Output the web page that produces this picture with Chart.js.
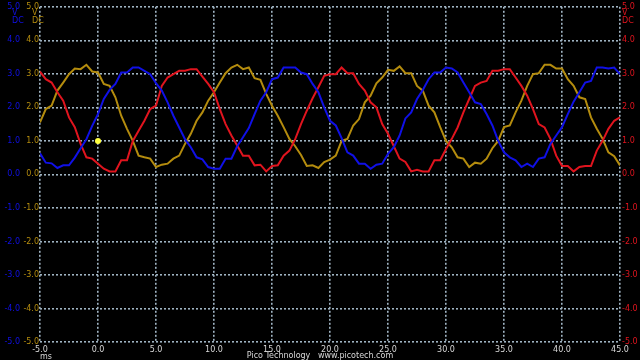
<!DOCTYPE html>
<html>
<head>
<meta charset="utf-8">
<script src="https://cdn.jsdelivr.net/npm/chart.js@4/dist/chart.umd.min.js"></script>
<style>
  html, body { margin: 0; padding: 0; background: #000; }
  canvas { display: block; background: #000; }
</style>
</head>
<body>
<canvas id="scope" width="640" height="360"></canvas>
<script>
// sample times (ms)
const times = [
  -5, -4.5, -4, -3.5, -3, -2.5, -2, -1.5, -1, -0.5,
  0, 0.5, 1, 1.5, 2, 2.5, 3, 3.5, 4, 4.5,
  5, 5.5, 6, 6.5, 7, 7.5, 8, 8.5, 9, 9.5,
  10, 10.5, 11, 11.5, 12, 12.5, 13, 13.5, 14, 14.5,
  15, 15.5, 16, 16.5, 17, 17.5, 18, 18.5, 19, 19.5,
  20, 20.5, 21, 21.5, 22, 22.5, 23, 23.5, 24, 24.5,
  25, 25.5, 26, 26.5, 27, 27.5, 28, 28.5, 29, 29.5,
  30, 30.5, 31, 31.5, 32, 32.5, 33, 33.5, 34, 34.5,
  35, 35.5, 36, 36.5, 37, 37.5, 38, 38.5, 39, 39.5,
  40, 40.5, 41, 41.5, 42, 42.5, 43, 43.5, 44, 44.5,
  45
];

// channel A (blue), volts
const chanA = [
  0.63, 0.35, 0.33, 0.19, 0.27, 0.27, 0.50, 0.78, 1.05, 1.45,
  1.80, 2.25, 2.52, 2.70, 3.04, 3.04, 3.19, 3.19, 3.09, 2.99,
  2.72, 2.50, 2.15, 1.75, 1.40, 1.05, 0.81, 0.51, 0.45, 0.22,
  0.17, 0.17, 0.47, 0.47, 0.84, 1.11, 1.38, 1.80, 2.20, 2.45,
  2.84, 2.89, 3.19, 3.19, 3.19, 3.04, 2.99, 2.70, 2.45, 2.00,
  1.60, 1.46, 1.08, 0.66, 0.56, 0.32, 0.32, 0.17, 0.29, 0.32,
  0.61, 0.81, 1.16, 1.67, 1.85, 2.25, 2.52, 2.84, 3.04, 3.04,
  3.19, 3.16, 3.04, 2.74, 2.45, 2.15, 2.10, 1.80, 1.46, 1.00,
  0.66, 0.51, 0.42, 0.22, 0.32, 0.22, 0.47, 0.51, 0.91, 1.16,
  1.41, 1.80, 2.17, 2.45, 2.74, 2.79, 3.19, 3.19, 3.16, 3.19,
  2.99
];

// channel B (gold), volts
const chanB = [
  1.55, 1.95, 2.05, 2.50, 2.74, 2.99, 3.16, 3.14, 3.27, 3.07,
  3.04, 2.70, 2.64, 2.30, 1.75, 1.36, 1.00, 0.56, 0.51, 0.47,
  0.22, 0.29, 0.32, 0.47, 0.56, 0.91, 1.21, 1.60, 1.85, 2.20,
  2.45, 2.74, 3.02, 3.19, 3.27, 3.14, 3.19, 2.87, 2.82, 2.40,
  2.05, 1.75, 1.41, 1.06, 0.84, 0.58, 0.25, 0.27, 0.19, 0.37,
  0.44, 0.56, 1.00, 1.06, 1.46, 1.65, 2.15, 2.35, 2.72, 2.89,
  3.12, 3.09, 3.22, 3.02, 3.02, 2.64, 2.50, 2.05, 1.85, 1.41,
  1.00, 0.81, 0.51, 0.47, 0.22, 0.35, 0.32, 0.47, 0.78, 1.00,
  1.41, 1.46, 1.85, 2.20, 2.64, 2.99, 3.02, 3.27, 3.27, 3.16,
  3.16, 2.84, 2.64, 2.30, 2.25, 1.70, 1.36, 1.06, 0.66, 0.54,
  0.27
];

// channel C (red), volts
const chanC = [
  3.07, 2.84, 2.74, 2.45, 2.20, 1.70, 1.41, 0.91, 0.51, 0.47,
  0.32, 0.17, 0.09, 0.09, 0.42, 0.42, 1.00, 1.30, 1.60, 1.95,
  2.05, 2.64, 2.89, 2.99, 3.09, 3.09, 3.14, 3.14, 2.92, 2.70,
  2.45, 1.95, 1.50, 1.16, 0.86, 0.56, 0.56, 0.27, 0.29, 0.09,
  0.25, 0.27, 0.56, 0.71, 1.05, 1.50, 1.90, 2.27, 2.60, 2.94,
  2.99, 2.99, 3.19, 3.02, 3.02, 2.70, 2.50, 2.15, 2.00, 1.50,
  1.21, 0.84, 0.47, 0.37, 0.09, 0.14, 0.09, 0.09, 0.42, 0.42,
  0.76, 1.06, 1.40, 1.85, 2.25, 2.64, 2.74, 2.79, 3.09, 3.09,
  3.14, 3.14, 2.89, 2.64, 2.35, 1.95, 1.50, 1.40, 1.06, 0.56,
  0.25, 0.25, 0.09, 0.22, 0.25, 0.25, 0.71, 1.00, 1.36, 1.60,
  1.70
];

// trigger marker
const triggerX = [0];
const triggerY = [1.0];

const xMin = -5, xMax = 45, xStep = 5;
const vMin = -5, vMax = 5, vStep = 1;

const blue = '#1010e6';
const gold = '#b48c0e';
const red = '#e0141e';
const gridColor = '#9fb3c2';
const font = { family: 'DejaVu Sans', size: 8 };

function pts(ys) {
  return times.map((t, i) => ({ x: t, y: ys[i] }));
}

function voltAxis(pos, color, weight, showGrid, pad) {
  return {
    type: 'linear',
    position: pos,
    weight: weight,
    min: vMin,
    max: vMax,
    afterFit: function (s) { s.width = 20; },
    ticks: {
      stepSize: vStep,
      color: color,
      font: font,
      padding: pad,
      callback: v => v.toFixed(1)
    },
    grid: { display: showGrid, color: gridColor, lineWidth: 1.6, drawTicks: false },
    border: { display: false, dash: [2, 2] }
  };
}

const scopeText = {
  id: 'scopeText',
  beforeDraw(chart) {
    const ctx = chart.ctx;
    ctx.save();
    ctx.fillStyle = '#000';
    ctx.fillRect(0, 0, chart.width, chart.height);
    ctx.restore();
  },
  afterDraw(chart) {
    const ctx = chart.ctx;
    ctx.save();
    ctx.font = '8px "DejaVu Sans"';
    ctx.textBaseline = 'middle';
    ctx.textAlign = 'left';
    // units under the top labels
    ctx.fillStyle = blue;
    ctx.fillText('V', 12, 13);
    ctx.fillText('DC', 12, 21);
    ctx.fillStyle = gold;
    ctx.fillText('V', 32, 13);
    ctx.fillText('DC', 32, 21);
    ctx.fillStyle = red;
    ctx.fillText('V', 622, 13);
    ctx.fillText('DC', 622, 21);
    // time unit + footer
    ctx.fillStyle = '#d8d8d8';
    ctx.fillText('ms', 40, 357);
    ctx.textAlign = 'center';
    ctx.fillText('Pico Technology   www.picotech.com', 320, 356);
    ctx.restore();
  }
};

new Chart(document.getElementById('scope'), {
  type: 'line',
  data: {
    datasets: [
      {
        type: 'scatter',
        data: triggerX.map((t, i) => ({ x: t, y: triggerY[i] })),
        yAxisID: 'y',
        pointRadius: 3,
        pointBackgroundColor: '#ffff40',
        pointBorderWidth: 0,
        showLine: false,
        order: 0
      },
      {
        data: pts(chanA),
        yAxisID: 'yA',
        borderColor: blue,
        borderWidth: 2,
        pointRadius: 0,
        tension: 0,
        order: 1
      },
      {
        data: pts(chanC),
        yAxisID: 'yC',
        borderColor: red,
        borderWidth: 2,
        pointRadius: 0,
        tension: 0,
        order: 2
      },
      {
        data: pts(chanB),
        yAxisID: 'y',
        borderColor: gold,
        borderWidth: 2,
        pointRadius: 0,
        tension: 0,
        order: 3
      }
    ]
  },
  options: {
    responsive: false,
    animation: false,
    layout: { padding: { top: 5, left: 0, right: 0, bottom: 0 } },
    plugins: {
      legend: { display: false },
      tooltip: { enabled: false }
    },
    scales: {
      x: {
        type: 'linear',
        min: xMin,
        max: xMax,
        afterFit: function (s) { s.height = 18; },
        ticks: {
          stepSize: xStep,
          color: '#d8d8d8',
          font: font,
          padding: 3,
          maxRotation: 0,
          autoSkip: false,
          callback: v => v.toFixed(1)
        },
        grid: { color: gridColor, lineWidth: 1.6, drawTicks: false },
        border: { display: false, dash: [2, 2] }
      },
      yA: voltAxis('left', blue, 1, false, 0),
      y: voltAxis('left', gold, 0, true, 1),
      yC: voltAxis('right', red, 0, false, 2)
    }
  },
  plugins: [scopeText]
});
</script>
</body>
</html>
